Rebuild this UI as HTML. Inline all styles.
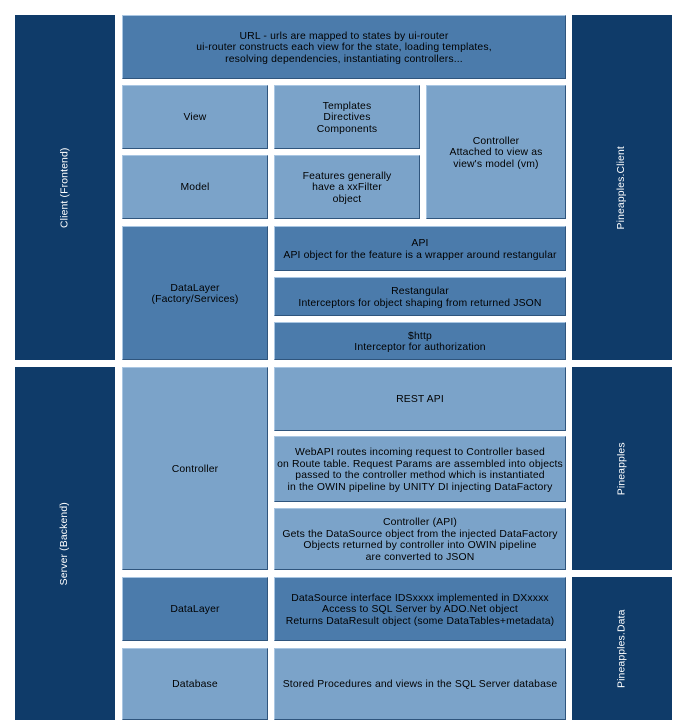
<!DOCTYPE html>
<html><head><meta charset="utf-8"><style>
body{margin:0;width:687px;height:728px;background:#fff;position:relative;font-family:"Liberation Sans",sans-serif;font-size:10.4px;letter-spacing:0.15px;color:#000;overflow:hidden}
.b{position:absolute;box-sizing:border-box;display:flex;align-items:center;justify-content:center;text-align:center;white-space:nowrap;line-height:11.5px;padding-top:2px;border-top:1px solid #a9c6e2;border-left:1px solid #a9c6e2;border-right:1px solid #2f557d;border-bottom:1px solid #2f557d}
.d{background:#0f3b69;color:#fff;border:none;padding-top:0}
.m{background:#4b7bab}
.l{background:#7ba3c9}
.v span{transform:rotate(-90deg);white-space:nowrap;display:block}
</style></head><body>
<div class="b d v" style="left:15px;top:15px;width:100px;height:345px"><span>Client (Frontend)</span></div>
<div class="b d v" style="left:15px;top:367px;width:100px;height:353px"><span>Server (Backend)</span></div>
<div class="b d v" style="left:572px;top:15px;width:100px;height:345px"><span>Pineapples.Client</span></div>
<div class="b d v" style="left:572px;top:367px;width:100px;height:203px"><span>Pineapples</span></div>
<div class="b d v" style="left:572px;top:577px;width:100px;height:143px"><span>Pineapples.Data</span></div>

<div class="b m" style="left:122px;top:15px;width:444px;height:64px">URL - urls are mapped to states by ui-router<br>ui-router constructs each view for the state, loading templates,<br>resolving dependencies, instantiating controllers...</div>
<div class="b l" style="left:122px;top:85px;width:146px;height:64px">View</div>
<div class="b l" style="left:274px;top:85px;width:146px;height:64px">Templates<br>Directives<br>Components</div>
<div class="b l" style="left:426px;top:85px;width:140px;height:134px">Controller<br>Attached to view as<br>view's model (vm)</div>
<div class="b l" style="left:122px;top:155px;width:146px;height:64px">Model</div>
<div class="b l" style="left:274px;top:155px;width:146px;height:64px">Features generally<br>have a xxFilter<br>object</div>
<div class="b m" style="left:122px;top:226px;width:146px;height:134px">DataLayer<br>(Factory/Services)</div>
<div class="b m" style="left:274px;top:226px;width:292px;height:45px">API<br>API object for the feature is a wrapper around restangular</div>
<div class="b m" style="left:274px;top:277px;width:292px;height:39px">Restangular<br>Interceptors for object shaping from returned JSON</div>
<div class="b m" style="left:274px;top:322px;width:292px;height:38px">$http<br>Interceptor for authorization</div>

<div class="b l" style="left:122px;top:367px;width:146px;height:203px">Controller</div>
<div class="b l" style="left:274px;top:367px;width:292px;height:64px">REST API</div>
<div class="b l" style="left:274px;top:436px;width:292px;height:66px">WebAPI routes incoming request to Controller based<br>on Route table. Request Params are assembled into objects<br>passed to the controller method which is instantiated<br>in the OWIN pipeline by UNITY DI injecting DataFactory</div>
<div class="b l" style="left:274px;top:508px;width:292px;height:62px">Controller (API)<br>Gets the DataSource object from the injected DataFactory<br>Objects returned by controller into OWIN pipeline<br>are converted to JSON</div>
<div class="b m" style="left:122px;top:577px;width:146px;height:64px">DataLayer</div>
<div class="b m" style="left:274px;top:577px;width:292px;height:64px">DataSource interface IDSxxxx implemented in DXxxxx<br>Access to SQL Server by ADO.Net object<br>Returns DataResult object (some DataTables+metadata)</div>
<div class="b l" style="left:122px;top:648px;width:146px;height:72px">Database</div>
<div class="b l" style="left:274px;top:648px;width:292px;height:72px">Stored Procedures and views in the SQL Server database</div>
</body></html>
